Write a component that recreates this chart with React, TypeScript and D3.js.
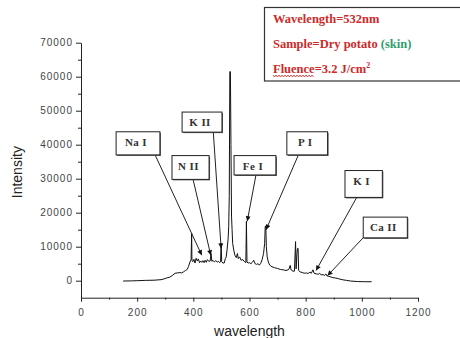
import React, { useRef, useEffect } from 'react';
import * as d3 from 'd3';

// spectrum (nm, counts)
const wavelengths = [
  150, 180, 200, 230, 260, 285, 295, 305, 315, 325, 335, 345, 352, 358, 365, 372, 378, 383, 388, 392,
  394, 395, 398, 402, 406, 410, 414, 418, 422, 426, 430, 434, 438, 442, 446, 450, 455, 460, 463, 466,
  470, 475, 480, 485, 490, 494, 497, 499, 501, 505, 510, 514, 517, 520, 524, 526, 528, 530, 532, 534,
  536, 538, 540, 544, 548, 553, 557, 560, 565, 570, 576, 582, 587, 589, 591, 595, 600, 605, 610, 615,
  620, 625, 630, 635, 640, 645, 650, 654, 656, 658, 660, 663, 667, 672, 680, 690, 700, 710, 720, 730,
  740, 745, 748, 755, 760, 764, 766, 769, 771, 773, 775, 780, 788, 795, 802, 808, 815, 820, 826, 830,
  838, 845, 850, 855, 862, 867, 872, 876, 882, 890, 897, 905, 912, 920, 930, 945, 960, 985, 1010, 1035,
];
const intensities = [
  -100, -50, 0, 100, 150, 300, 500, 800, 1000, 1500, 2200, 2300, 2400, 2300, 2600, 3000, 3300, 4200, 5500, 6200,
  14000, 6000, 5600, 6300, 5200, 6600, 5800, 6400, 5300, 5800, 5400, 5900, 5300, 6000, 5400, 6200, 5700, 5800, 8000, 5700,
  6000, 5500, 5900, 5500, 5700, 5300, 5600, 11000, 5600, 5200, 5200, 6500, 7000, 9000, 12500, 16000, 25000, 61500, 61500, 40000,
  19000, 15000, 11000, 9000, 7500, 6800, 8000, 6500, 7000, 6000, 6200, 5600, 5300, 17500, 5500, 5200, 5300, 5000, 5400, 6000,
  5000, 4800, 5000, 4600, 5100, 6200, 8000, 11000, 16000, 16000, 10000, 7000, 5500, 4600, 4100, 3800, 3600, 3300, 3200, 3000,
  3300, 4500, 3200, 2800, 2800, 11500, 3500, 8000, 9500, 9500, 3000, 2600, 2400, 2200, 2300, 2100, 2500, 2200, 3200, 2200,
  2000, 1900, 2200, 1700, 1800, 1500, 2000, 1400, 1300, 1100, 900, 800, 700, 500, 300, 100, -100, -250, -300, -300,
];

const xTicks = [0, 200, 400, 600, 800, 1000, 1200];
const xMinorTicks = [100, 300, 500, 700, 900, 1100];
const yTicks = [0, 10000, 20000, 30000, 40000, 50000, 60000, 70000];
const yMinorTicks = [5000, 15000, 25000, 35000, 45000, 55000, 65000];

// labelled emission lines: box extents and arrow ends in data units
const lineLabels = ['Na I', 'N II', 'K II', 'Fe I', 'P I', 'K I', 'Ca II'];
const boxLeft = [125, 324, 360, 545, 733, 940, 1005];
const boxRight = [281, 456, 502, 694, 878, 1073, 1162];
const boxTop = [43800, 36800, 49600, 36800, 43800, 32400, 18700];
const boxBottom = [37000, 29800, 43700, 31100, 37000, 24500, 12600];
const arrowFromX = [264, 399, 471, 623, 774, 982, 1005];
const arrowFromY = [36970, 29820, 43820, 31090, 36970, 24530, 12650];
const arrowToX = [430, 462, 499, 592, 659, 837, 878];
const arrowToY = [7500, 7500, 9500, 17500, 15000, 3000, 1500];

function SpectrumChart() {
  const svgRef = useRef<SVGSVGElement>(null);

  useEffect(() => {
    const width = 460;
    const height = 338;
    const sans = "'Liberation Sans', Arial, sans-serif";
    const serif = "'Liberation Serif', 'Times New Roman', serif";

    const svg = d3.select(svgRef.current)
      .attr('width', width)
      .attr('height', height)
      .style('position', 'absolute')
      .style('left', '0px')
      .style('top', '0px')
      .style('background', '#fff');
    svg.selectAll('*').remove();

    const x = d3.scaleLinear().domain([0, 1200]).range([81, 418]);
    const y = d3.scaleLinear().domain([-5000, 70000]).range([297.7, 42.7]);

    // arrow marker
    svg.append('defs').append('marker')
      .attr('id', 'arrowHead')
      .attr('viewBox', '0 0 10 10')
      .attr('refX', 10)
      .attr('refY', 5)
      .attr('markerWidth', 7)
      .attr('markerHeight', 5)
      .attr('markerUnits', 'userSpaceOnUse')
      .attr('orient', 'auto')
      .append('path')
      .attr('d', 'M0,0L10,5L0,10Z')
      .attr('fill', '#111');

    // axes
    const styleAxis = (g) => {
      g.select('.domain').attr('stroke', '#222');
      g.selectAll('.tick line').attr('stroke', '#222');
      g.selectAll('text')
        .attr('fill', '#444')
        .style('font-family', sans)
        .style('font-size', '10px')
        .style('letter-spacing', '1px');
    };

    svg.append('g')
      .attr('transform', `translate(0,${y(-5000)})`)
      .call(d3.axisBottom(x).tickValues(xTicks).tickSize(4).tickPadding(7).tickSizeOuter(0).tickFormat(d3.format('d')))
      .call(styleAxis);
    svg.append('g')
      .attr('transform', `translate(0,${y(-5000)})`)
      .call(d3.axisBottom(x).tickValues(xMinorTicks).tickSize(2).tickSizeOuter(0).tickFormat(() => ''))
      .call((g) => g.select('.domain').remove())
      .call(styleAxis);

    svg.append('g')
      .attr('transform', `translate(${x(0)},0)`)
      .call(d3.axisLeft(y).tickValues(yTicks).tickSize(5).tickPadding(3).tickSizeOuter(0).tickFormat(d3.format('d')))
      .call(styleAxis);
    svg.append('g')
      .attr('transform', `translate(${x(0)},0)`)
      .call(d3.axisLeft(y).tickValues(yMinorTicks).tickSize(3).tickSizeOuter(0).tickFormat(() => ''))
      .call((g) => g.select('.domain').remove())
      .call(styleAxis);

    // axis titles
    svg.append('text')
      .attr('transform', `translate(22,${(y(70000) + y(-5000)) / 2 + 2}) rotate(-90)`)
      .attr('text-anchor', 'middle')
      .style('font-family', sans)
      .style('font-size', '14px')
      .attr('fill', '#222')
      .text('Intensity');
    svg.append('text')
      .attr('x', (x(0) + x(1200)) / 2)
      .attr('y', 336)
      .attr('text-anchor', 'middle')
      .style('font-family', sans)
      .style('font-size', '14px')
      .attr('fill', '#222')
      .text('wavelength');

    // spectrum
    const line = d3.line<number>()
      .x((d, i) => x(wavelengths[i]))
      .y((d) => y(d));
    svg.append('path')
      .datum(intensities)
      .attr('d', line)
      .attr('fill', 'none')
      .attr('stroke', '#111')
      .attr('stroke-width', 1)
      .attr('stroke-linejoin', 'round');

    // line annotations
    lineLabels.forEach((label, i) => {
      const x0 = x(boxLeft[i]);
      const x1 = x(boxRight[i]);
      const y0 = y(boxTop[i]);
      const y1 = y(boxBottom[i]);

      svg.append('line')
        .attr('x1', x(arrowFromX[i]))
        .attr('y1', y(arrowFromY[i]))
        .attr('x2', x(arrowToX[i]))
        .attr('y2', y(arrowToY[i]))
        .attr('stroke', '#222')
        .attr('stroke-width', 1)
        .attr('marker-end', 'url(#arrowHead)');

      svg.append('rect')
        .attr('x', x0 + 1)
        .attr('y', y0 + 1)
        .attr('width', x1 - x0)
        .attr('height', y1 - y0)
        .attr('fill', '#555');
      svg.append('rect')
        .attr('x', x0)
        .attr('y', y0)
        .attr('width', x1 - x0)
        .attr('height', y1 - y0)
        .attr('fill', '#fff')
        .attr('stroke', '#222')
        .attr('stroke-width', 1);

      svg.append('text')
        .attr('x', (x0 + x1) / 2 - 2)
        .attr('y', y0 + 14)
        .attr('text-anchor', 'middle')
        .style('font-family', serif)
        .style('font-weight', 'bold')
        .style('font-size', '11px')
        .style('letter-spacing', '0.4px')
        .attr('fill', '#333')
        .text(label);
    });

    // info box
    svg.append('rect')
      .attr('x', 264.5)
      .attr('y', 7.5)
      .attr('width', 210)
      .attr('height', 73.5)
      .attr('fill', '#fff')
      .attr('stroke', '#333')
      .attr('stroke-width', 1.2);

    const red = '#cc2a2a';
    const info = svg.append('g')
      .style('font-family', serif)
      .style('font-weight', 'bold')
      .style('font-size', '12.5px')
      .attr('fill', red);
    info.append('text').attr('x', 273).attr('y', 23).text('Wavelength=532nm');
    const l2 = info.append('text').attr('x', 273).attr('y', 48);
    l2.append('tspan').text('Sample=Dry potato ');
    l2.append('tspan').attr('fill', '#2e9e6b').text('(skin)');
    const l3 = info.append('text').attr('x', 273).attr('y', 73);
    l3.append('tspan').text('Fluence=3.2 J/cm');
    l3.append('tspan').attr('dy', -5).style('font-size', '8px').text('2');

    // spell-check squiggle under "Fluence"
    const squiggle = d3.range(273, 314, 1.5).map((px, i) => [px, i % 2 === 0 ? 75 : 77]);
    svg.append('path')
      .attr('d', d3.line()(squiggle as [number, number][]))
      .attr('fill', 'none')
      .attr('stroke', red)
      .attr('stroke-width', 0.8);
  }, []);

  return <svg ref={svgRef}></svg>;
}

export default function App() {
  return <SpectrumChart />;
}
